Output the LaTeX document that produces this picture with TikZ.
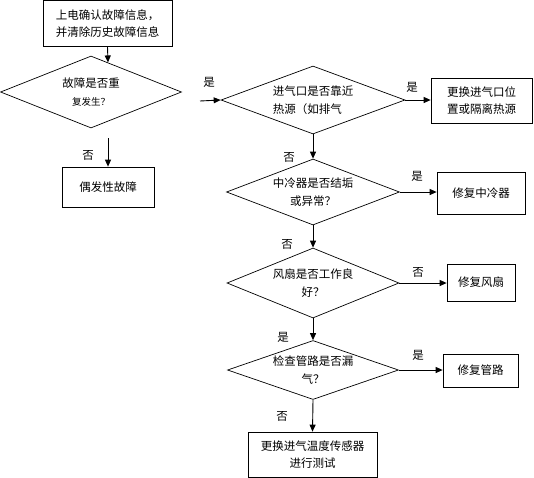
\documentclass[tikz,border=0pt]{standalone}
\usepackage{fontspec}
\setmainfont{Noto Sans CJK SC}
\usetikzlibrary{shapes.geometric,arrows.meta,calc}
\tikzset{
  procbox/.style={draw, line width=0.7pt, inner sep=0pt, align=center},
  decision/.style={draw, diamond, line width=0.7pt, inner sep=-8pt, aspect=2.7, align=center},
  flow/.style={-{Triangle[length=7pt,width=6pt]}, line width=0.9pt},
  answer/.style={inner sep=0pt},
}

\begin{document}
\begin{tikzpicture}[x=1pt, y=-1pt, font=\fontsize{11.5}{17.5}\selectfont]
    \useasboundingbox (0,0) rectangle (534,477);
    \node[procbox, minimum width=129pt, minimum height=46pt] (start) at (107.5,23.5) {上电确认故障信息，\\并清除历史故障信息};
    \node[decision, minimum width=181pt, minimum height=72pt] (repeat) at (91,92) {故障是否重\\{\fontsize{9.5}{12}\selectfont 复发生？}};
    \node[procbox, minimum width=92pt, minimum height=40pt] (occasional) at (108,187) {偶发性故障};
    \node[decision, minimum width=184pt, minimum height=68pt, align=left] (inlet) at (313,100) {进气口是否靠近\\热源（如排气};
    \node[procbox, minimum width=101pt, minimum height=45pt] (relocate) at (481.5,100.5) {更换进气口位\\置或隔离热源};
    \node[decision, minimum width=173pt, minimum height=66pt] (cooler) at (313,192) {中冷器是否结垢\\或异常？};
    \node[procbox, minimum width=88pt, minimum height=42pt] (fixcooler) at (481,193) {修复中冷器};
    \node[decision, minimum width=172pt, minimum height=70pt] (fan) at (313,283) {风扇是否工作良\\好？};
    \node[procbox, minimum width=68pt, minimum height=37pt] (fixfan) at (481,282.5) {修复风扇};
    \node[decision, minimum width=171pt, minimum height=59pt] (pipe) at (313,370) {检查管路是否漏\\气？};
    \node[procbox, minimum width=75pt, minimum height=33pt] (fixpipe) at (480.5,370.5) {修复管路};
    \node[procbox, minimum width=129pt, minimum height=45pt] (sensor) at (312.5,454.5) {更换进气温度传感器\\进行测试};

    \coordinate (yesin) at (200,101);
    \coordinate (noout) at (108,138);

    \draw[flow] (start.south) -- ($(repeat.north)!0.187!(repeat.east)$);
    \draw[flow] (yesin) -- (inlet.west);
    \draw[flow] (noout) -- (occasional.north);
    \draw[flow] (inlet.east) -- (inlet.east -| relocate.west);
    \draw[flow] (inlet.south) -- (cooler.north);
    \draw[flow] (cooler.east) -- (cooler.east -| fixcooler.west);
    \draw[flow] (cooler.south) -- (fan.north);
    \draw[flow] (fan.east) -- (fan.east -| fixfan.west);
    \draw[flow] (fan.south) -- (pipe.north);
    \draw[flow] (pipe.east) -- (pipe.east -| fixpipe.west);
    \draw[flow] (pipe.south) -- (sensor.north);

    \node[answer] (a1) at (209,82) {是};
    \node[answer] (a2) at (88,155) {否};
    \node[answer] (a3) at (412,87) {是};
    \node[answer] (a4) at (289,157) {否};
    \node[answer] (a5) at (417,176) {是};
    \node[answer] (a6) at (287,244) {否};
    \node[answer] (a7) at (418,272) {否};
    \node[answer] (a8) at (283,337) {是};
    \node[answer] (a9) at (418,355) {是};
    \node[answer] (a10) at (282,416) {否};
  \end{tikzpicture}
\end{document}
